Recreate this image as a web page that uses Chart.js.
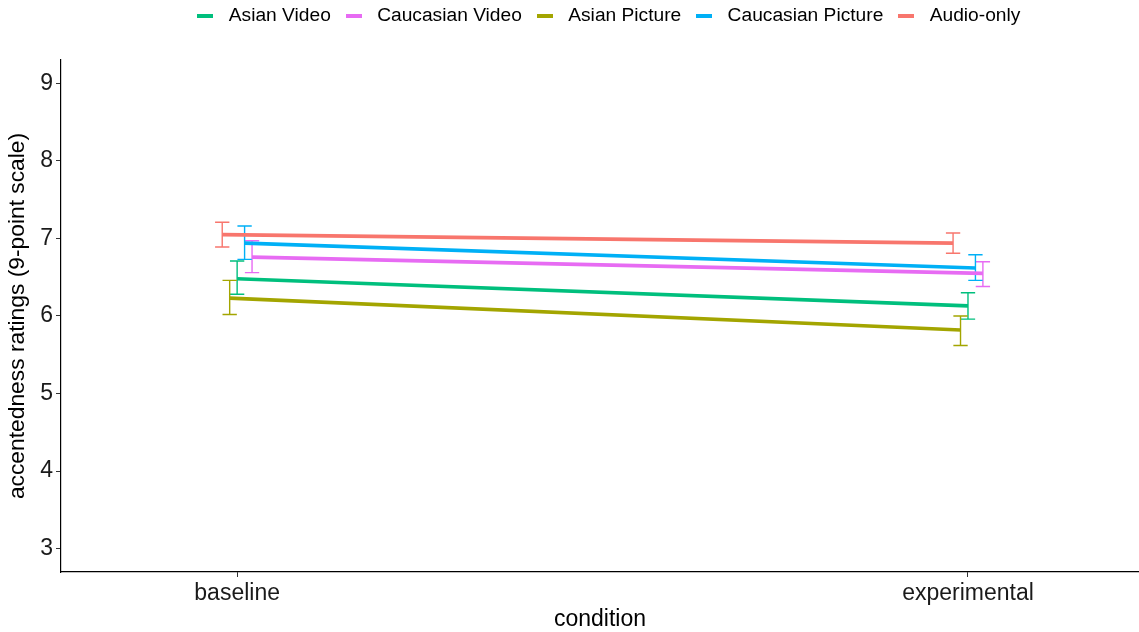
<!DOCTYPE html>
<html>
<head>
<meta charset="utf-8">
<script src="https://cdn.jsdelivr.net/npm/chart.js@4.4.1/dist/chart.umd.min.js"></script>
<style>
  html, body { margin: 0; padding: 0; background: #ffffff; }
  #wrap { width: 1139px; height: 632px; }
</style>
</head>
<body>
<div id="wrap"><canvas id="chart" width="1139" height="632"></canvas></div>
<script>
// Conditions on the x axis
const categories = ['baseline', 'experimental'];
const yTicks = [3, 4, 5, 6, 7, 8, 9];

// Series names, in legend order
const seriesNames = ['Asian Video', 'Caucasian Video', 'Asian Picture', 'Caucasian Picture', 'Audio-only'];

// Mean ratings per condition
const asianVideoMean       = [6.48, 6.13];
const caucasianVideoMean   = [6.76, 6.55];
const asianPictureMean     = [6.23, 5.82];
const caucasianPictureMean = [6.94, 6.62];
const audioOnlyMean        = [7.05, 6.94];

// Error bar bounds per condition
const asianVideoLow        = [6.28, 5.96];
const asianVideoHigh       = [6.71, 6.30];
const caucasianVideoLow    = [6.56, 6.38];
const caucasianVideoHigh   = [6.97, 6.70];
const asianPictureLow      = [6.02, 5.62];
const asianPictureHigh     = [6.46, 6.00];
const caucasianPictureLow  = [6.73, 6.46];
const caucasianPictureHigh = [7.16, 6.79];
const audioOnlyLow         = [6.89, 6.81];
const audioOnlyHigh        = [7.21, 7.07];

const series = [
  { name: seriesNames[0], mean: asianVideoMean,       low: asianVideoLow,       high: asianVideoHigh,       color: '#00BF7D', slot: 0 },
  { name: seriesNames[1], mean: caucasianVideoMean,   low: caucasianVideoLow,   high: caucasianVideoHigh,   color: '#E76BF3', slot: 2 },
  { name: seriesNames[2], mean: asianPictureMean,     low: asianPictureLow,     high: asianPictureHigh,     color: '#A3A500', slot: -1 },
  { name: seriesNames[3], mean: caucasianPictureMean, low: caucasianPictureLow, high: caucasianPictureHigh, color: '#00B0F6', slot: 1 },
  { name: seriesNames[4], mean: audioOnlyMean,        low: audioOnlyLow,        high: audioOnlyHigh,        color: '#F8766D', slot: -2 }
];

const DODGE = 0.0102;   // horizontal offset between groups, in category units
const CAP = 0.0098;     // half width of error bar caps, in category units

const datasets = series.map(s => ({
  label: s.name,
  data: categories.map((c, i) => ({ x: i + 1 + s.slot * DODGE, y: s.mean[i] })),
  borderColor: s.color,
  backgroundColor: s.color,
  borderWidth: 3.6,
  pointRadius: 0,
  tension: 0,
  low: s.low,
  high: s.high
}));

// Short thick key line used as the legend symbol
function keySymbol(color) {
  const c = document.createElement('canvas');
  c.width = 16; c.height = 4;
  const g = c.getContext('2d');
  g.fillStyle = color;
  g.fillRect(0, 0, 16, 4);
  return c;
}

// Draws error bars for every dataset, through the chart's own scales
const errorBars = {
  id: 'errorBars',
  beforeDatasetsDraw(chart) {
    const { ctx, scales: { x, y } } = chart;
    ctx.save();
    chart.data.datasets.forEach(ds => {
      ctx.strokeStyle = ds.borderColor;
      ctx.lineWidth = 1.4;
      ds.data.forEach((pt, i) => {
        const px = x.getPixelForValue(pt.x);
        const l = x.getPixelForValue(pt.x - CAP);
        const r = x.getPixelForValue(pt.x + CAP);
        const yl = y.getPixelForValue(ds.low[i]);
        const yh = y.getPixelForValue(ds.high[i]);
        ctx.beginPath();
        ctx.moveTo(px, yl); ctx.lineTo(px, yh);
        ctx.moveTo(l, yl); ctx.lineTo(r, yl);
        ctx.moveTo(l, yh); ctx.lineTo(r, yh);
        ctx.stroke();
      });
    });
    ctx.restore();
  }
};

// Legend band height and horizontal placement
const legendBand = {
  id: 'legendBand',
  beforeLayout(chart) {
    const lg = chart.legend;
    if (lg && !lg._bandPatched) {
      const fit = lg.fit;
      lg.fit = function () { fit.call(this); this.height = 63; };
      lg._bandPatched = true;
    }
  },
  afterLayout(chart) {
    if (chart.legend) chart.legend.left += 73;
  }
};

const FONT = "'Liberation Sans', Arial, sans-serif";

new Chart(document.getElementById('chart'), {
  type: 'line',
  data: { datasets },
  plugins: [errorBars, legendBand],
  options: {
    responsive: false,
    devicePixelRatio: 1,
    animation: false,
    layout: { padding: { top: -3, left: 0, right: 0, bottom: 0 } },
    plugins: {
      tooltip: { enabled: false },
      legend: {
        position: 'top',
        align: 'center',
        labels: {
          usePointStyle: true,
          pointStyleWidth: 27.5,
          boxHeight: 19.2,
          padding: 9.25,
          color: '#1a1a1a',
          font: { family: FONT, size: 19.2 },
          generateLabels(chart) {
            return chart.data.datasets.map((ds, i) => ({
              text: ds.label,
              fillStyle: ds.borderColor,
              strokeStyle: ds.borderColor,
              pointStyle: keySymbol(ds.borderColor),
              lineWidth: 0,
              hidden: false,
              datasetIndex: i
            }));
          }
        }
      }
    },
    scales: {
      x: {
        type: 'linear',
        min: 0.759,
        max: 2.234,
        afterBuildTicks(scale) { scale.ticks = categories.map((c, i) => ({ value: i + 1 })); },
        afterFit(scale) { scale.height = 60; },
        ticks: {
          autoSkip: false,
          maxRotation: 0,
          padding: 3,
          color: '#1a1a1a',
          font: { family: FONT, size: 23 },
          callback: (v) => categories[Math.round(v) - 1]
        },
        grid: { display: true, drawOnChartArea: false, drawTicks: true, tickLength: 5, color: '#333333', lineWidth: 1 },
        border: { display: true, color: '#000000', width: 1.2 },
        title: {
          display: true,
          text: 'condition',
          color: '#000000',
          font: { family: FONT, size: 23, lineHeight: 1.1 },
          padding: { top: 0, bottom: 0 }
        }
      },
      y: {
        type: 'linear',
        min: 2.698,
        max: 9.302,
        afterBuildTicks(scale) { scale.ticks = yTicks.map(v => ({ value: v })); },
        afterFit(scale) { scale.width = 61; },
        ticks: {
          padding: 3,
          color: '#1a1a1a',
          font: { family: FONT, size: 23 },
          callback: (v) => String(v)
        },
        grid: { display: true, drawOnChartArea: false, drawTicks: true, tickLength: 5, color: '#333333', lineWidth: 1 },
        border: { display: true, color: '#000000', width: 1.2 },
        title: {
          display: true,
          text: 'accentedness ratings (9-point scale)',
          color: '#000000',
          font: { family: FONT, size: 22.8 },
          padding: { top: 4, bottom: 0 }
        }
      }
    }
  }
});
</script>
</body>
</html>
